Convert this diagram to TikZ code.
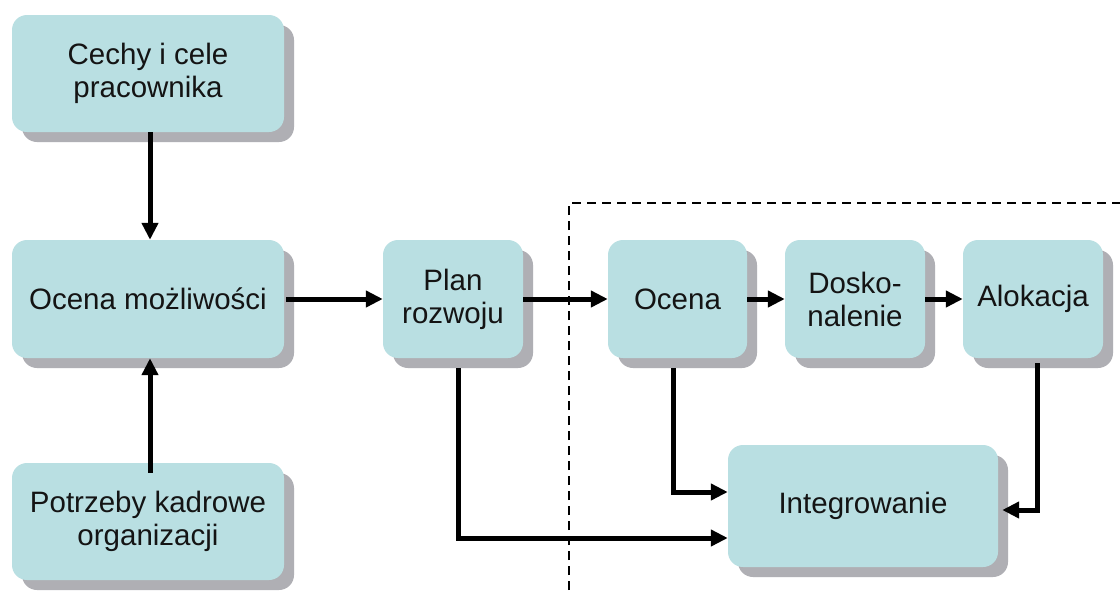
\documentclass[tikz,border=0pt]{standalone}
\usepackage{fontspec}
\setmainfont{Liberation Sans}
\usetikzlibrary{arrows.meta,shadows}
\definecolor{boxfill}{RGB}{185,223,226}
\definecolor{shadowgray}{RGB}{175,175,180}
\definecolor{txt}{RGB}{20,20,20}
\tikzset{
  box/.style={rounded corners=15pt, fill=boxfill, draw=none, align=center,
    text=txt, font=\fontsize{29.5pt}{33pt}\selectfont, inner sep=0pt,
    drop shadow={shadow xshift=10pt, shadow yshift=-10pt, fill=shadowgray, opacity=1}},
  bigbox/.style={box, minimum width=272pt, minimum height=117pt},
  smallbox/.style={box, minimum width=140pt, minimum height=118pt},
  arr/.style={line width=5pt, -{Triangle[length=17pt,width=16pt]}},
  frame/.style={line width=2.6pt, dash pattern=on 9pt off 6pt}
}
\begin{document}
\begin{tikzpicture}[x=1pt,y=-1pt]
\useasboundingbox[fill=white] (0,0) rectangle (1120,590);
% nodes
\node[bigbox] (cechy) at (148,73.5) {Cechy i cele\\pracownika};
\node[bigbox, minimum height=118pt] (ocenam) at (148,299) {Ocena możliwości};
\node[bigbox] (potrz) at (148,521.5) {Potrzeby kadrowe\\organizacji};
\node[smallbox] (plan) at (453,299) {Plan\\rozwoju};
\node[smallbox, minimum width=139pt] (ocena) at (677.5,299) {Ocena};
\node[smallbox] (dosko) at (855,299) {Dosko-\\nalenie};
\node[smallbox] (alok) at (1033,299) {Alokacja};
\node[box, minimum width=270pt, minimum height=122pt] (integ) at (863,506) {Integrowanie};
% dashed frame
\coordinate (fA) at (569,590);
\coordinate (fB) at (569,203);
\coordinate (fC) at (1120,203);
\draw[frame] (fA) -- (fB) -- (fC);
% connectors
\draw[arr] ([xshift=2pt]cechy.south) -- ([xshift=2pt]ocenam.north);
\draw[arr] ([xshift=2pt,yshift=-10pt]potrz.north) -- ([xshift=2pt]ocenam.south);
\draw[arr] ([xshift=2pt]ocenam.east) -- (plan.west);
\draw[arr] (plan.east) -- (ocena.west);
\draw[arr] (ocena.east) -- (dosko.west);
\draw[arr] (dosko.east) -- (alok.west);
\draw[arr] ([xshift=-4.5pt,yshift=-10pt]ocena.south) |- ([yshift=14pt]integ.west);
\draw[arr] ([xshift=5pt,yshift=-10pt]plan.south) |- ([yshift=-32pt]integ.west);
\draw[arr] ([xshift=4pt,yshift=-5pt]alok.south) |- ([xshift=4pt,yshift=-4pt]integ.east);
\end{tikzpicture}
\end{document}
